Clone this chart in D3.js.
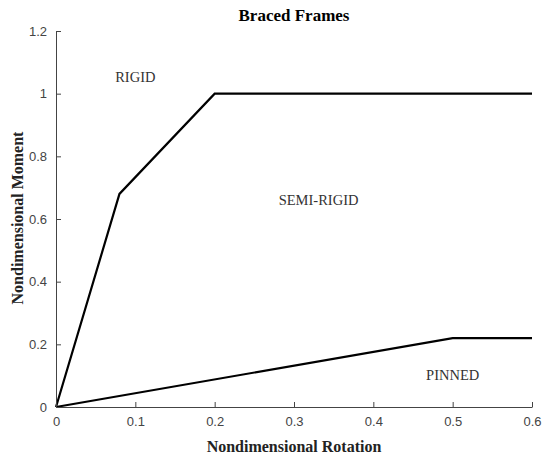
<!DOCTYPE html>
<html><head><meta charset="utf-8">
<script src="https://cdn.jsdelivr.net/npm/d3@7"></script>
<style>body{margin:0;background:#fff}</style>
</head><body>
<script>
const xTicks = [0, 0.1, 0.2, 0.3, 0.4, 0.5, 0.6];
const yTicks = [0, 0.2, 0.4, 0.6, 0.8, 1, 1.2];
const rigidX = [0, 0.08, 0.2, 0.6];
const rigidY = [0, 0.68, 1, 1];
const pinnedX = [0, 0.5, 0.6];
const pinnedY = [0, 0.22, 0.22];
const regionLabels = ["RIGID", "SEMI-RIGID", "PINNED"];
const regionX = [0.1, 0.331, 0.5];
const regionY = [1.037, 0.645, 0.086];

const W = 542, H = 457;
const svg = d3.select("body").append("svg").attr("width", W).attr("height", H);
const x = d3.scaleLinear().domain([0, 0.6]).range([56, 532]);
const y = d3.scaleLinear().domain([0, 1.2]).range([407, 31]);

const line = d3.line().x(d => x(d[0])).y(d => y(d[1]));
const series = [
  rigidX.map((v, i) => [v, rigidY[i]]),
  pinnedX.map((v, i) => [v, pinnedY[i]])
];
svg.selectAll("path.s").data(series).enter().append("path")
  .attr("class", "s").attr("d", line)
  .attr("fill", "none").attr("stroke", "#000").attr("stroke-width", 2.2)
  .attr("stroke-linejoin", "miter");

const gx = svg.append("g").attr("transform", `translate(0,${y(0)})`)
  .call(d3.axisBottom(x).tickValues(xTicks).tickSizeInner(-5).tickSizeOuter(0).tickPadding(10)
    .tickFormat(d => d === 0 ? "0" : d3.format(".1f")(d)));
const gy = svg.append("g").attr("transform", `translate(${x(0)},0)`)
  .call(d3.axisLeft(y).tickValues(yTicks).tickSizeInner(-5).tickSizeOuter(0).tickPadding(9)
    .tickFormat(d => (d === 0 || d === 1) ? String(d) : d3.format(".1f")(d)));
[gx, gy].forEach(g => {
  g.select(".domain").attr("stroke", "#444").attr("stroke-width", 1);
  g.selectAll(".tick line").attr("stroke", "#444");
  g.selectAll(".tick text").attr("fill", "#444")
    .style("font-family", "'Liberation Sans', Arial, sans-serif").style("font-size", "13px");
});

const serif = "'Liberation Serif', 'Times New Roman', serif";
svg.append("text").attr("x", 294).attr("y", 21).attr("text-anchor", "middle")
  .style("font-family", serif).style("font-weight", "bold")
  .style("font-size", "17px").text("Braced Frames");
svg.append("text").attr("x", 294).attr("y", 452).attr("text-anchor", "middle")
  .style("font-family", serif).style("font-weight", "bold")
  .style("font-size", "16px").attr("fill", "#222").text("Nondimensional Rotation");
svg.append("text").attr("transform", "translate(22.5,218) rotate(-90)").attr("text-anchor", "middle")
  .style("font-family", serif).style("font-weight", "bold")
  .style("font-size", "16px").attr("fill", "#222").text("Nondimensional Moment");

svg.selectAll("text.lab").data(regionLabels).enter().append("text").attr("class", "lab")
  .attr("x", (d, i) => x(regionX[i])).attr("y", (d, i) => y(regionY[i]))
  .attr("text-anchor", "middle").attr("fill", "#333")
  .style("font-family", serif).style("font-size", "14.5px")
  .text(d => d);
</script>
</body></html>
